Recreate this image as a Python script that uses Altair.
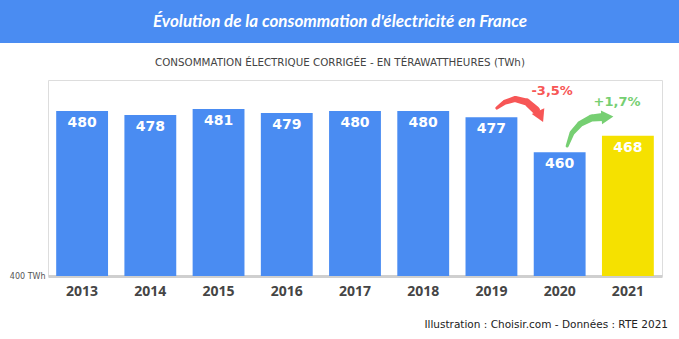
import altair as alt
import pandas as pd

# ---- chart values ----
years = ["2013", "2014", "2015", "2016", "2017", "2018", "2019", "2020", "2021"]
consumption = [480, 478, 481, 479, 480, 480, 477, 460, 468]
highlight = [False, False, False, False, False, False, False, False, True]

changes_text = ["-3,5%", "+1,7%"]
changes_x = [2019.89, 2020.84]
changes_y = [489.7, 484.3]
changes_kind = ["down", "up"]

# annotation arrows (data units: year position, TWh)
red_x = [2019.08, 2019.20, 2019.35, 2019.52, 2019.65]
red_y = [481.4, 484.3, 485.8, 484.3, 480.5]
green_x = [2020.11, 2020.18, 2020.30, 2020.47, 2020.63]
green_y = [463.0, 469.3, 473.7, 476.6, 477.1]
head_x = [2019.72, 2020.70]
head_y = [477.3, 477.1]
head_angle = [65, 355]

BLUE = "#4a8cf2"
YELLOW = "#f5e100"
RED = "#f75656"
GREEN = "#76cf72"

bars_df = pd.DataFrame({"year": years, "value": consumption, "hl": highlight})

W, H = 614, 196
ydom = [400, 495]
yscale = alt.Scale(domain=ydom, zero=False, nice=False)
bandscale = alt.Scale(paddingInner=0.24, paddingOuter=0.12)

xaxis = alt.Axis(
    title=None, labelAngle=0, ticks=False, labelPadding=8,
    labelFontSize=14, labelFontWeight="bold", labelColor="#454545",
    labelFont="Open Sans", domainColor="#cfcfcf", domainWidth=3,
)
yaxis = alt.Axis(
    title=None, values=[400], labelExpr="datum.value + ' TWh'",
    domain=False, ticks=False, grid=False, labelFontSize=8,
    labelColor="#555555", labelPadding=3, labelFont="DejaVu Sans",
)
xband = alt.X("year:N", sort=years, scale=bandscale, axis=xaxis)

bars = alt.Chart(bars_df).mark_bar().encode(
    x=xband,
    y=alt.Y("value:Q", scale=yscale, axis=yaxis),
    y2=alt.datum(400),
    color=alt.Color("hl:N", scale=alt.Scale(domain=[False, True], range=[BLUE, YELLOW]), legend=None),
)

bar_labels = alt.Chart(bars_df).mark_text(
    color="white", fontSize=14, fontWeight="bold", font="DejaVu Sans",
    baseline="middle", dy=12,
).encode(
    x=xband,
    y=alt.Y("value:Q", scale=yscale, axis=yaxis),
    text="value:N",
)

bar_layer = alt.layer(bars, bar_labels)

xq = alt.Scale(domain=[2012.5, 2021.5], nice=False, zero=False)

arrow_df = pd.DataFrame({
    "x": red_x + green_x,
    "y": red_y + green_y,
    "kind": ["down"] * len(red_x) + ["up"] * len(green_x),
    "order": list(range(len(red_x))) + list(range(len(green_x))),
    "w": [3, 5, 6, 7, 8, 3, 5, 6, 7, 8],
})
color_scale = alt.Scale(domain=["down", "up"], range=[RED, GREEN])

trails = alt.Chart(arrow_df).mark_trail().encode(
    x=alt.X("x:Q", scale=xq, axis=None),
    y=alt.Y("y:Q", scale=yscale),
    detail="kind:N",
    order="order:Q",
    size=alt.Size("w:Q", scale=None, legend=None),
    color=alt.Color("kind:N", scale=color_scale, legend=None),
)

head_df = pd.DataFrame({"x": head_x, "y": head_y, "a": head_angle, "kind": ["down", "up"]})
heads = alt.Chart(head_df).mark_point(shape="triangle-right", filled=True, size=190, opacity=1).encode(
    x=alt.X("x:Q", scale=xq, axis=None),
    y=alt.Y("y:Q", scale=yscale),
    angle=alt.Angle("a:Q", scale=None),
    color=alt.Color("kind:N", scale=color_scale, legend=None),
)

pct_df = pd.DataFrame({"x": changes_x, "y": changes_y, "t": changes_text, "kind": changes_kind})
pct = alt.Chart(pct_df).mark_text(fontSize=13, fontWeight="bold", font="DejaVu Sans").encode(
    x=alt.X("x:Q", scale=xq, axis=None),
    y=alt.Y("y:Q", scale=yscale),
    text="t:N",
    color=alt.Color("kind:N", scale=color_scale, legend=None),
)

annot_layer = alt.layer(trails, heads, pct)

# decorations (banner, titles, source)
one = pd.DataFrame({"a": [0]})
banner = alt.Chart(one).mark_rect(color=BLUE).encode(
    x=alt.value(-48), x2=alt.value(631), y=alt.value(-80), y2=alt.value(-37)
)
title = alt.Chart(one).mark_text(
    text="Évolution de la consommation d'électricité en France",
    color="white", fontSize=17, fontStyle="italic", fontWeight="bold", font="Lato",
    align="center", baseline="middle",
).encode(x=alt.value(292), y=alt.value(-58))
subtitle = alt.Chart(one).mark_text(
    text="CONSOMMATION ÉLECTRIQUE CORRIGÉE - EN TÉRAWATTHEURES (TWh)",
    color="#444444", fontSize=10.3, font="DejaVu Sans", align="center", baseline="middle",
).encode(x=alt.value(292), y=alt.value(-17))
source = alt.Chart(one).mark_text(
    text="Illustration : Choisir.com - Données : RTE 2021",
    color="#222222", fontSize=10.5, font="DejaVu Sans", align="right", baseline="middle",
).encode(x=alt.value(620), y=alt.value(245))

chart = alt.layer(
    banner, title, subtitle, source, bar_layer, annot_layer
).resolve_scale(x="independent", color="independent").properties(
    width=W, height=H,
    autosize=alt.AutoSizeParams(type="none"),
    padding={"left": 48, "top": 80, "right": 17, "bottom": 63},
).configure_view(stroke=None).configure(background="white")

chart.save("out.html", embed_options={"renderer": "svg", "actions": False})
